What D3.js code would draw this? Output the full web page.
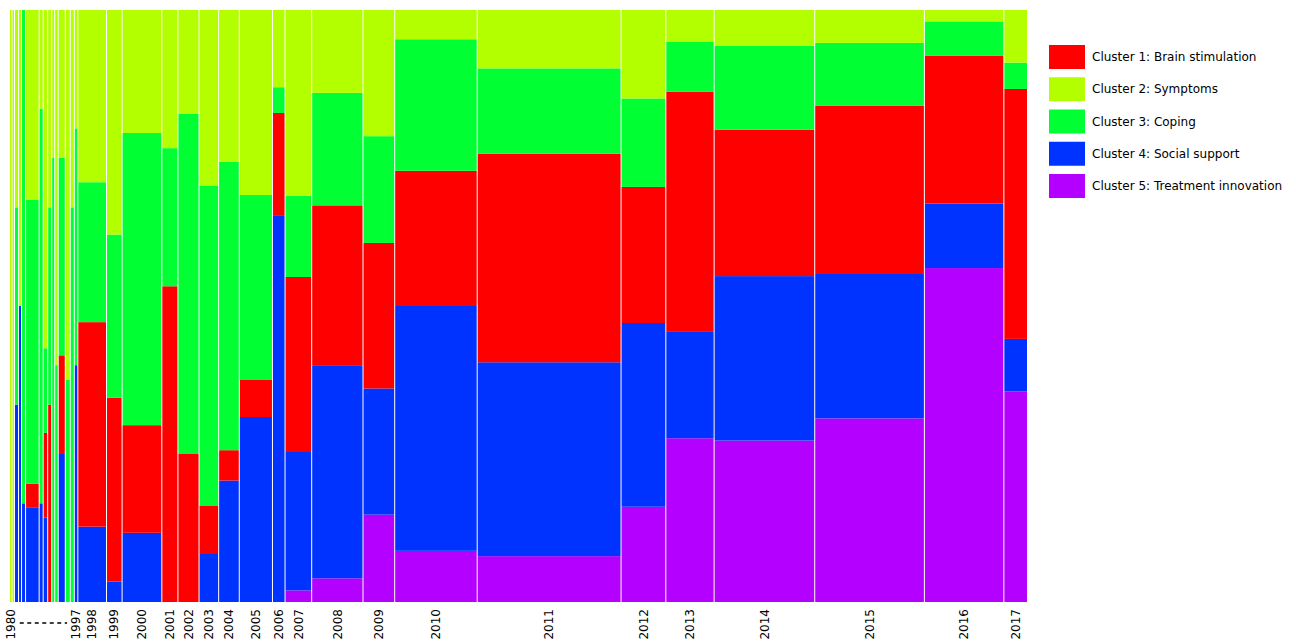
<!DOCTYPE html>
<html>
<head>
<meta charset="utf-8">
<script src="https://cdn.jsdelivr.net/npm/d3@7"></script>
<style>
body { margin: 0; background: #fff; }
text { font-family: "DejaVu Sans", sans-serif; }
</style>
</head>
<body>
<div id="chart"></div>
<script>
var svgWidth = 1296;
var svgHeight = 641;

var margin = { top: 10, right: 269, bottom: 39, left: 10 };
var width = svgWidth - margin.left - margin.right;
var height = svgHeight - margin.top - margin.bottom;

// publication counts per year and cluster
var years = [1980, 1981, 1982, 1983, 1985, 1986, 1987, 1988, 1990, 1991, 1992, 1993, 1995, 1996, 1997,
  1998, 1999, 2000, 2001, 2002, 2003, 2004, 2005, 2006, 2007, 2008, 2009,
  2010, 2011, 2012, 2013, 2014, 2015, 2016, 2017];
var brain = [0, 0, 0, 0, 0, 1, 0, 1, 2, 0, 0, 2, 0, 0, 0,
  19, 9, 14, 16, 10, 3, 2, 4, 4, 15, 27, 15, 37, 100, 20, 38, 49, 61, 39, 19];
var symptoms = [3, 3, 2, 2, 0, 8, 1, 4, 2, 1, 3, 3, 5, 2, 1,
  16, 11, 16, 7, 7, 11, 10, 20, 3, 16, 14, 13, 8, 28, 13, 5, 12, 12, 3, 4];
var coping = [0, 0, 2, 0, 5, 12, 4, 1, 2, 3, 2, 4, 3, 4, 2,
  13, 8, 38, 7, 23, 20, 19, 20, 1, 7, 19, 11, 36, 41, 13, 8, 28, 23, 9, 2];
var social = [0, 0, 2, 2, 1, 4, 1, 1, 0, 0, 0, 3, 0, 0, 2,
  7, 1, 9, 0, 0, 3, 8, 20, 15, 12, 36, 13, 67, 93, 27, 17, 55, 53, 17, 4];
var treatment = [0, 0, 0, 0, 0, 0, 0, 0, 0, 0, 0, 0, 0, 0, 0,
  0, 0, 0, 0, 0, 0, 0, 0, 0, 1, 4, 9, 14, 22, 14, 26, 54, 67, 88, 16];

var labeledYears = [1980, 1997, 1998, 1999, 2000, 2001, 2002, 2003, 2004, 2005, 2006, 2007,
  2008, 2009, 2010, 2011, 2012, 2013, 2014, 2015, 2016, 2017];

var clusterKeys = ["brain", "symptoms", "coping", "social", "treatment"];
var clusterNames = ["Cluster 1: Brain stimulation", "Cluster 2: Symptoms", "Cluster 3: Coping",
  "Cluster 4: Social support", "Cluster 5: Treatment innovation"];
var clusterColors = ["#ff0000", "#b3ff00", "#00ff33", "#0033ff", "#b300ff"];

// stacking order, bottom to top
var stackKeys = ["treatment", "social", "brain", "coping", "symptoms"];

var table = years.map(function(y, i) {
  return {
    year: y,
    brain: brain[i],
    symptoms: symptoms[i],
    coping: coping[i],
    social: social[i],
    treatment: treatment[i]
  };
});
table.forEach(function(d) {
  d.total = d.brain + d.symptoms + d.coping + d.social + d.treatment;
});

var color = d3.scaleOrdinal().domain(clusterKeys).range(clusterColors);

var svg = d3.select("#chart")
  .append("svg")
  .attr("width", svgWidth)
  .attr("height", svgHeight);

var chartGroup = svg.append("g")
  .attr("transform", `translate(${margin.left}, ${margin.top})`);

// column widths follow the yearly totals
var gap = 1;
var grandTotal = d3.sum(table, d => d.total);
var xScale = d3.scaleLinear()
  .domain([0, grandTotal])
  .range([0, width - gap * (table.length - 1)]);

var cum = 0;
table.forEach(function(d, i) {
  d.x0 = xScale(cum) + i * gap;
  d.w = xScale(d.total);
  cum += d.total;
});

var yScale = d3.scaleLinear()
  .domain([0, 1])
  .range([height, 0]);

var series = d3.stack()
  .keys(stackKeys)
  .offset(d3.stackOffsetExpand)(table);

chartGroup.selectAll("g.layer")
  .data(series)
  .enter()
  .append("g")
  .attr("class", "layer")
  .attr("fill", d => color(d.key))
  .selectAll("rect")
  .data(d => d.filter(p => p[1] - p[0] > 0))
  .enter()
  .append("rect")
  .attr("x", d => d.data.x0)
  .attr("width", d => d.data.w)
  .attr("y", d => yScale(d[1]))
  .attr("height", d => yScale(d[0]) - yScale(d[1]));

// year labels
var labelRows = table.filter(d => labeledYears.indexOf(d.year) >= 0);
chartGroup.selectAll("text.year")
  .data(labelRows)
  .enter()
  .append("text")
  .attr("class", "year")
  .attr("transform", d => `translate(${d.x0 + d.w / 2}, ${height + 7}) rotate(-90)`)
  .attr("dy", "0.35em")
  .style("text-anchor", "end")
  .style("font-size", "12px")
  .style("fill", "#000")
  .text(d => d.year);

// dashed line between 1980 and 1997
var first = table[0];
var last = table.find(d => d.year === 1997);
chartGroup.append("line")
  .attr("x1", first.x0 + first.w / 2 + 9)
  .attr("x2", last.x0 + last.w / 2 - 9)
  .attr("y1", height + 21)
  .attr("y2", height + 21)
  .attr("stroke", "#000")
  .attr("stroke-width", 1.5)
  .attr("stroke-dasharray", "4,3.5");

// legend
var legend = svg.append("g")
  .attr("transform", "translate(1049, 45)");

var legendItems = legend.selectAll("g")
  .data(clusterKeys)
  .enter()
  .append("g")
  .attr("transform", (d, i) => `translate(0, ${i * 32.25})`);

legendItems.append("rect")
  .attr("width", 36)
  .attr("height", 24)
  .attr("fill", d => color(d));

legendItems.append("text")
  .attr("x", 43)
  .attr("y", 12)
  .attr("dy", "0.35em")
  .style("font-size", "12px")
  .style("fill", "#000")
  .text((d, i) => clusterNames[i]);
</script>
</body>
</html>
